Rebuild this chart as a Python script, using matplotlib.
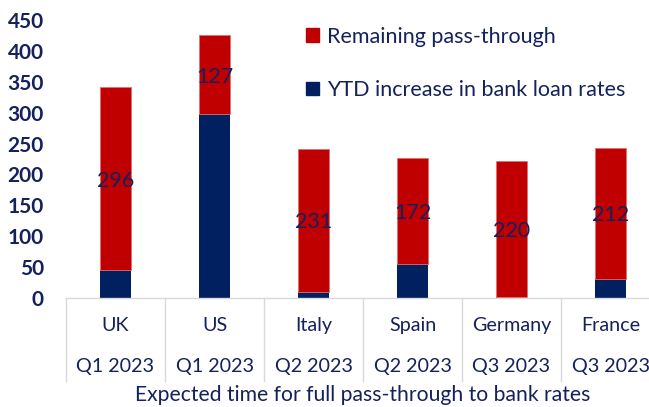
import matplotlib

matplotlib.use("Agg")
import matplotlib.pyplot as plt
from matplotlib.lines import Line2D
from matplotlib.patches import Patch

# Data
countries = ["UK", "US", "Italy", "Spain", "Germany", "France"]
quarters = ["Q1 2023", "Q1 2023", "Q2 2023", "Q2 2023", "Q3 2023", "Q3 2023"]
ytd_increase = [45, 298, 10, 55, 2, 31]
remaining = [296, 127, 231, 172, 220, 212]

NAVY = "#002060"
RED = "#c00000"
TEXT = "#14215c"
GRID = "#d9d9d9"

plt.rcParams.update({
    "font.family": ["Lato", "DejaVu Sans"],
    "font.size": 14,
    "text.color": TEXT,
})

fig = plt.figure(figsize=(6.49, 4.07), dpi=100)
# axes deliberately runs a bit past the right figure edge, as in the source
ax = fig.add_axes([66 / 649, 1 - 298 / 407, 594 / 649, 278 / 407])

x = list(range(len(countries)))
ax.bar(x, ytd_increase, width=0.315, color=NAVY, zorder=2)
ax.bar(x, remaining, width=0.315, bottom=ytd_increase, color=RED,
       edgecolor="#e07070", linewidth=0.6, zorder=2)

# value labels in the middle of the red segment
for xi, b, r in zip(x, ytd_increase, remaining):
    ax.text(xi, b + r / 2, str(r), ha="center", va="center_baseline",
            fontsize=15.5, color=TEXT, zorder=3)

ax.set_xlim(-0.5, 5.5)
ax.set_ylim(0, 450)
ax.set_yticks(range(0, 451, 50))
ax.tick_params(axis="y", length=0, pad=16, labelsize=15, labelcolor=TEXT)
for lab in ax.get_yticklabels():
    lab.set_fontweight("bold")
ax.set_xticks([])

for s in ["top", "right", "left"]:
    ax.spines[s].set_visible(False)
ax.spines["bottom"].set_color(GRID)
ax.spines["bottom"].set_linewidth(1)

# two-level category axis
trans = ax.get_xaxis_transform()
for xi, c, q in zip(x, countries, quarters):
    ax.text(xi, -0.10, c, transform=trans, ha="center", va="center", fontsize=14.2)
    ax.text(xi, -0.248, q, transform=trans, ha="center", va="center", fontsize=14.2)
for xs in [i - 0.5 for i in range(len(countries) + 1)]:
    ax.add_line(Line2D([xs, xs], [0, -0.30], transform=trans, color=GRID,
                       linewidth=1, clip_on=False))

ax.text(2.5, -0.35, "Expected time for full pass-through to bank rates",
        transform=trans, ha="center", va="center", fontsize=15.2)

handles = [Patch(color=RED, label="Remaining pass-through"),
           Patch(color=NAVY, label="YTD increase in bank loan rates")]
ax.legend(handles=handles, loc="upper left", bbox_to_anchor=(0.372, 1.045),
          frameon=False, fontsize=15.5, handlelength=0.6, handleheight=0.6,
          handletextpad=0.35, labelspacing=1.55, labelcolor=TEXT)

fig.savefig("out.png", dpi=100)
